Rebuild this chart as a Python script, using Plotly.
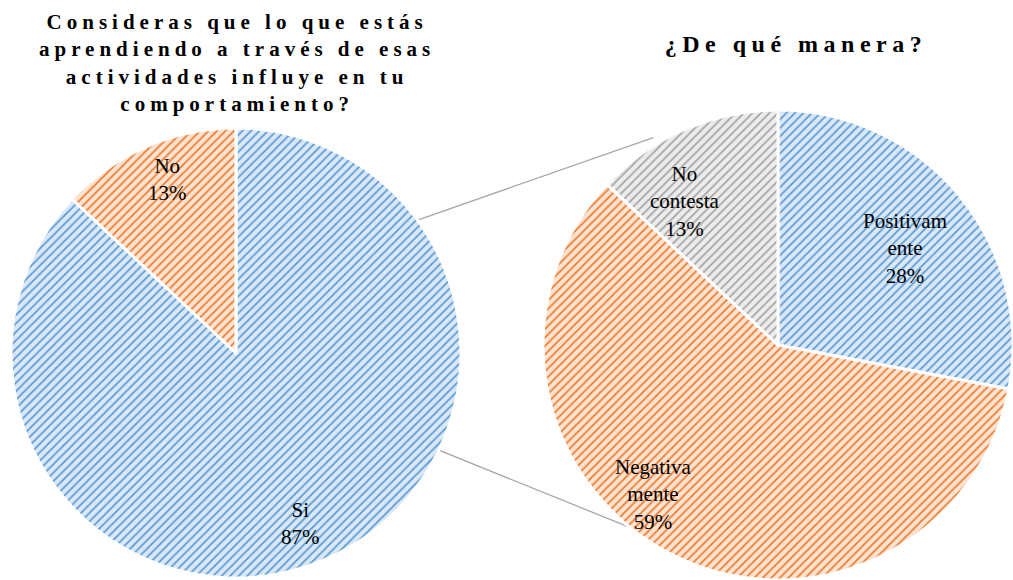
import math
import plotly.graph_objects as go

# ---------------- data ----------------
left_title = "Consideras que lo que estás<br>aprendiendo a través de esas<br>actividades influye en tu<br>comportamiento?"
right_title = "¿De qué manera?"

left_labels = ["Si", "No"]
left_text = ["Si", "No"]
left_values = [87, 13]

right_labels = ["Positivamente", "Negativamente", "No contesta"]
right_text = ["Positivam<br>ente", "Negativa<br>mente", "No<br>contesta"]
right_values = [28, 59, 13]

# ---------------- style ----------------
W, H = 1013, 580
FG = {"blue": "#5B9BD5", "orange": "#ED7D31", "gray": "#A5A5A5"}
BG = {"blue": "#DAE8F6", "orange": "#FCE3D2", "gray": "#ECECEC"}
left_cols = ["blue", "orange"]
right_cols = ["blue", "orange", "gray"]

left_dom = dict(x=[11 / W, 461 / W], y=[2 / H, 452 / H])
right_dom = dict(x=[543 / W, 1.0], y=[0.0, 470 / H])

# label placement tweaks (angle offset in degrees, radius fraction)
left_lab_off = [(2.8, 0.81), (1.9, 0.83)]
right_lab_off = [(2.5, 0.68), (13.0, 0.83), (-9.6, 0.73)]

# connector lines: (left angle, left frac, right angle, right frac)
connectors = [(53.8, 1.0, 329.0, 1.03), (115.6, 1.0, 219.1, 1.0)]

FONT = "Liberation Serif"


def geom(dom):
    x0, x1 = dom["x"]
    y0, y1 = dom["y"]
    cx = (x0 + x1) / 2 * W
    cy = (1 - (y0 + y1) / 2) * H
    r = min((x1 - x0) * W, (y1 - y0) * H) / 2
    return cx, cy, r


def polar_to_paper(g, ang, frac):
    cx, cy, r = g
    a = math.radians(ang)
    px = cx + frac * r * math.sin(a)
    py = cy - frac * r * math.cos(a)
    return px / W, 1 - py / H


def pie(values, labels, cols, dom):
    return go.Pie(
        values=values, labels=labels, sort=False, direction="clockwise",
        rotation=0, textinfo="none", showlegend=False,
        hoverinfo="label+percent",
        marker=dict(
            colors=[BG[c] for c in cols],
            line=dict(color="white", width=3),
            pattern=dict(shape="/", fgcolor=[FG[c] for c in cols],
                         bgcolor=[BG[c] for c in cols], size=6,
                         solidity=0.3, fillmode="replace"),
        ),
        domain=dom,
    )


fig = go.Figure()
fig.add_trace(pie(left_values, left_labels, left_cols, left_dom))
fig.add_trace(pie(right_values, right_labels, right_cols, right_dom))

annotations = [
    dict(text=left_title, x=237 / W, y=1 - 63 / H, xref="paper", yref="paper",
         xanchor="center", yanchor="middle", showarrow=False, align="center",
         font=dict(family=FONT, size=21, color="#000000", weight="bold")),
    dict(text=right_title, x=796 / W, y=1 - 44 / H, xref="paper", yref="paper",
         xanchor="center", yanchor="middle", showarrow=False, align="center",
         font=dict(family=FONT, size=24, color="#000000", weight="bold")),
]


def add_labels(values, texts, offs, dom):
    g = geom(dom)
    tot = sum(values)
    cum = 0
    for v, t, (da, fr) in zip(values, texts, offs):
        mid = (cum + v / 2) / tot * 360 + da
        cum += v
        x, y = polar_to_paper(g, mid, fr)
        pct = round(v / tot * 100)
        annotations.append(dict(
            text=f"{t}<br>{pct}%", x=x, y=y, xref="paper", yref="paper",
            xanchor="center", yanchor="middle", showarrow=False, align="center",
            font=dict(family=FONT, size=21, color="#000000")))


add_labels(left_values, left_text, left_lab_off, left_dom)
add_labels(right_values, right_text, right_lab_off, right_dom)

shapes = []
gl, gr = geom(left_dom), geom(right_dom)
for la, lf, ra, rf in connectors:
    x0, y0 = polar_to_paper(gl, la, lf)
    x1, y1 = polar_to_paper(gr, ra, rf)
    shapes.append(dict(type="line", xref="paper", yref="paper",
                       x0=x0, y0=y0, x1=x1, y1=y1,
                       line=dict(color="#A6A6A6", width=1.3), layer="below"))

fig.update_layout(
    width=W, height=H, margin=dict(l=0, r=0, t=0, b=0),
    paper_bgcolor="white", plot_bgcolor="white",
    annotations=annotations, shapes=shapes,
    font=dict(family=FONT),
)

post = """
var s = document.createElement('style');
s.innerHTML = 'html,body{margin:0;padding:0;overflow:hidden;} .annotation[data-index="0"] text{letter-spacing:5px;} .annotation[data-index="1"] text{letter-spacing:5.5px;}';
document.head.appendChild(s);
"""

fig.write_html("out.html", post_script=post, config={"displayModeBar": False})
